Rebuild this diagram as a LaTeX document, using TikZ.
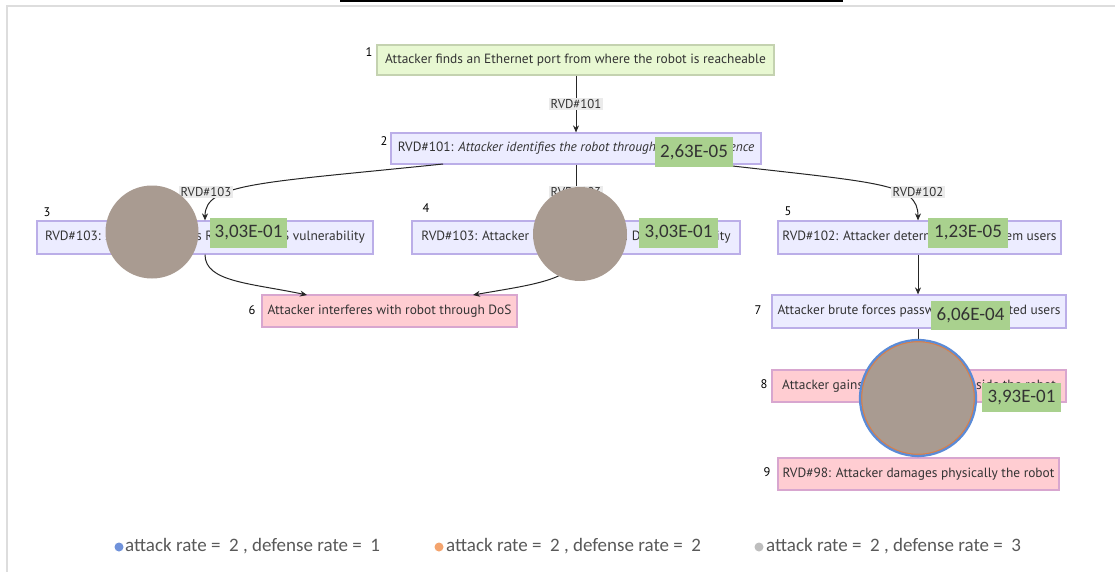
\documentclass[tikz,border=0pt]{standalone}
\usepackage{fontspec}
\setmainfont{PT Sans}
\newfontfamily\calib{Carlito}
\definecolor{lavfill}{HTML}{ECECFF}
\definecolor{lavdraw}{HTML}{BBAEE8}
\definecolor{pinkfill}{HTML}{FFCDD2}
\definecolor{pinkdraw}{HTML}{D8A6CF}
\definecolor{grnfill}{HTML}{E8F8D2}
\definecolor{grndraw}{HTML}{C4D2B0}
\definecolor{txt}{HTML}{333333}
\definecolor{taupe}{HTML}{A99B91}
\definecolor{lblgreen}{HTML}{A9D18E}
\definecolor{frame}{HTML}{DDDDDD}
\definecolor{ringblue}{HTML}{5B8BD6}
\definecolor{ringorange}{HTML}{D9804A}
\definecolor{dotblue}{HTML}{7092DA}
\definecolor{dotorange}{HTML}{F4A46E}
\definecolor{dotgray}{HTML}{BEBEBE}
\definecolor{legtxt}{HTML}{595959}
\tikzset{
  boxbase/.style={rectangle, line width=1.2pt, text=txt, inner sep=0pt,
    font=\fontsize{13.4}{15}\selectfont},
  lav/.style={boxbase, fill=lavfill, draw=lavdraw},
  pinkbox/.style={boxbase, fill=pinkfill, draw=pinkdraw},
  grnbox/.style={boxbase, fill=grnfill, draw=grndraw},
  num/.style={font=\fontsize{12.5}{14}\selectfont, text=black, inner sep=0pt},
  edge/.style={draw=black!85, line width=1pt, -{Stealth[length=7pt,width=6pt]}},
  elabel/.style={fill=black!8, text=txt, inner sep=1.5pt, font=\fontsize{12.8}{14}\selectfont},
  blob/.style={circle, fill=taupe, inner sep=0pt},
  rate/.style={rectangle, fill=lblgreen, text=black!80, inner sep=0pt,
    font=\calib\fontsize{19}{21}\selectfont},
  legend/.style={font=\calib\fontsize{19}{21}\selectfont, text=legtxt, inner sep=0pt, anchor=west},
  dot/.style={circle, inner sep=0pt, minimum size=9pt}
}
\usetikzlibrary{arrows.meta}
\begin{document}
\begin{tikzpicture}[x=1pt,y=-1pt]
\useasboundingbox (0,0) rectangle (1115,572);
\fill[white] (0,0) rectangle (1115,572);
% frame
\draw[frame, line width=2pt] (7,572) -- (7,6) -- (1115,6);
\draw[black, line width=2pt] (340,1) -- (843,1);

% nodes
\node[grnbox, minimum width=397, minimum height=30] (n1) at (575.5,60) {Attacker finds an Ethernet port from where the robot is reacheable};
\node[lav, minimum width=370, minimum height=31] (n2) at (576,148.5) {RVD\#101: \textit{Attacker identifies the robot through the ROS presence}};
\node[lav, minimum width=336, minimum height=33] (n3) at (205,237.5) {RVD\#103: Attacker exploits ROS 2 API DoS vulnerability};
\node[lav, minimum width=328, minimum height=33] (n4) at (576,237.5) {RVD\#103: Attacker exploits ROS API DoS vulnerability};
\node[lav, minimum width=283, minimum height=33] (n5) at (919.5,237.5) {RVD\#102: Attacker determines the system users};
\node[pinkbox, minimum width=255, minimum height=32] (n6) at (389.5,311) {Attacker interferes with robot through DoS};
\node[lav, minimum width=294, minimum height=33] (n7) at (919,311.5) {Attacker brute forces passwords of detected users};
\node[pinkbox, minimum width=294, minimum height=32] (n8) at (919,386) {Attacker gains admin privileges inside the robot};
\node[pinkbox, minimum width=281, minimum height=32] (n9) at (918.5,474) {RVD\#98: Attacker damages physically the robot};

% numbers
\node[num] (k1) at (369,52) {1};
\node[num] (k2) at (384,141) {2};
\node[num] (k3) at (47,212) {3};
\node[num] (k4) at (426,208) {4};
\node[num] (k5) at (788,211) {5};
\node[num] (k6) at (252,310) {6};
\node[num] (k7) at (758,310) {7};
\node[num] (k8) at (764,384) {8};
\node[num] (k9) at (767,472) {9};

% edges
\coordinate (a2l) at (443,164);
\coordinate (a2r) at (715,164);
\draw[edge] (n1.south -| 576,0) -- node[elabel] (l1) {RVD\#101} (n2.north -| 576,0);
\draw[edge] (a2l) .. controls (260,183) and (205,183) .. (n3.north -| 205,0);
\node[elabel] (l2) at (206,192) {RVD\#103};
\draw[edge] (n2.south -| 576,0) -- node[elabel, pos=0.5] (l3) {RVD\#103} (n4.north -| 576,0);
\draw[edge] (a2r) .. controls (880,183) and (918,183) .. (n5.north -| 918,0);
\node[elabel] (l4) at (918,192) {RVD\#102};
\coordinate (e6l) at (307,295);
\coordinate (e6r) at (473,295);
\draw[edge] (n3.south -| 205,0) .. controls (205,282) and (250,283) .. (e6l);
\draw[edge] (n4.south -| 576,0) .. controls (576,280) and (530,285) .. (e6r);
\draw[edge] (n5.south -| 918,0) -- (n7.north -| 918,0);
\draw[edge] (n7.south -| 918,0) -- (n8.north -| 918,0);
\draw[edge] (n8.south -| 918,0) -- node[elabel] (l5) {RVD\#98} (n9.north -| 918,0);

% blobs
\node[blob, minimum size=93] (c1) at (152,232) {};
\node[blob, minimum size=94] (c2) at (580,234) {};
\node[blob, minimum size=113, draw=ringorange, line width=1.5pt] (c3) at (918,398) {};
\draw[ringblue, line width=2.2pt] (c3.center) circle[radius=58];

% rate labels
\node[rate, minimum width=78, minimum height=30] (r1) at (694,152) {2,63E-05};
\node[rate, minimum width=77, minimum height=30] (r2) at (248.5,233) {3,03E-01};
\node[rate, minimum width=79, minimum height=30] (r3) at (678.5,233) {3,03E-01};
\node[rate, minimum width=80, minimum height=30] (r4) at (968,233) {1,23E-05};
\node[rate, minimum width=79, minimum height=29] (r5) at (970.5,315.5) {6,06E-04};
\node[rate, minimum width=79, minimum height=29] (r6) at (1021.5,397.5) {3,93E-01};

% legend
\node[dot, fill=dotblue] (d1) at (119,547) {};
\node[legend] (t1) at (125,546) {attack rate =\ \ 2 , defense rate =\ \ 1};
\node[dot, fill=dotorange] (d2) at (439,547) {};
\node[legend] (t2) at (446,546) {attack rate =\ \ 2 , defense rate =\ \ 2};
\node[dot, fill=dotgray] (d3) at (759,547) {};
\node[legend] (t3) at (766,546) {attack rate =\ \ 2 , defense rate =\ \ 3};
\end{tikzpicture}
\end{document}
